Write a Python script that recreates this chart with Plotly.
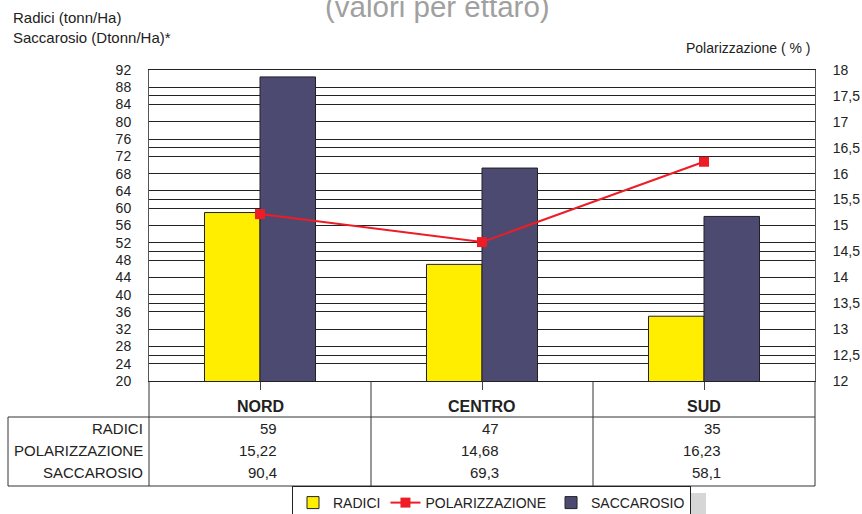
import plotly.graph_objects as go

categories = ["NORD", "CENTRO", "SUD"]
radici = [59, 47, 35]
polarizzazione = [15.22, 14.68, 16.23]
saccarosio = [90.4, 69.3, 58.1]
series_names = ["RADICI", "POLARIZZAZIONE", "SACCAROSIO"]

W, H = 862, 514
L, R, T, B = 149, 815, 70, 381
pw, ph = R - L, B - T

def px(x):
    return (x - L) / pw

def py(y):
    return (B - y) / ph

FONT = "Liberation Sans, Arial, sans-serif"
YELLOW = "#FFEE00"
DARK = "#4D4A72"
RED = "#EE1C25"

fig = go.Figure()
fig.add_trace(go.Bar(x=categories, y=radici, name=series_names[0], legendrank=1,
                     marker=dict(color=YELLOW, line=dict(color="#222", width=1)), yaxis="y"))
fig.add_trace(go.Bar(x=categories, y=saccarosio, name=series_names[2], legendrank=3,
                     marker=dict(color=DARK, line=dict(color="#222", width=1)), yaxis="y"))
fig.add_trace(go.Scatter(x=categories, y=polarizzazione, name=series_names[1], legendrank=2,
                         mode="lines+markers", line=dict(color=RED, width=2),
                         marker=dict(symbol="square", size=10, color=RED), yaxis="y2"))

def fmt(v):
    return str(v).replace(".", ",")

shapes = []
def line(x0, y0, x1, y1, w=1, color="#333"):
    shapes.append(dict(type="line", xref="paper", yref="paper",
                       x0=px(x0), y0=py(y0), x1=px(x1), y1=py(y1),
                       line=dict(color=color, width=w)))

col_edges = [149, 371, 593, 815]
for xe in col_edges:
    line(xe, 381, xe, 486)
line(8, 417, 815, 417)
line(8, 486, 815, 486)
line(8, 417, 8, 486)

LEG_X0, LEG_W = 292, 398
# legend shadow
shapes.append(dict(type="rect", xref="paper", yref="paper", x0=px(LEG_X0 + 4), y0=py(493),
                   x1=px(LEG_X0 + LEG_W + 16), y1=py(516),
                   fillcolor="#D6D6D6", line=dict(width=0), layer="below"))

ann = []
def text(t, x, y, size, xanchor="center", color="#222"):
    ann.append(dict(text=t, x=px(x), y=py(y), xref="paper", yref="paper", xanchor=xanchor,
                    yanchor="middle", showarrow=False,
                    font=dict(size=size, color=color, family=FONT)))

centers = [(col_edges[i] + col_edges[i + 1]) / 2 for i in range(3)]
for i, c in enumerate(categories):
    text("<b>%s</b>" % c, centers[i], 406, 16)
rows = [radici, polarizzazione, saccarosio]
row_y = [428, 450, 472]
for r, vals in enumerate(rows):
    text(series_names[r], 145, row_y[r], 15, "right")
    for i, v in enumerate(vals):
        text(fmt(v), centers[i] + 19, row_y[r], 15, "right")

text("Radici (tonn/Ha)", 11, 18, 15, "left")
text("Saccarosio (Dtonn/Ha)*", 11, 38, 15, "left")
text("Polarizzazione ( % )", 813, 48, 14, "right")
text("(valori per ettaro)", 437, 6, 29.5, "center", "#A0A0A0")

fig.update_layout(
    width=W, height=H, autosize=False,
    margin=dict(l=L, r=W - R, t=T, b=H - B, pad=0, autoexpand=False),
    paper_bgcolor="white", plot_bgcolor="white",
    separators=",.",
    barmode="group", bargap=0.5, bargroupgap=0,
    font=dict(family=FONT, size=14, color="#222"),
    showlegend=True,
    legend=dict(orientation="h", x=px(LEG_X0), y=py(486), xanchor="left", yanchor="top",
                bordercolor="#222", borderwidth=1, bgcolor="white",
                font=dict(size=14, family=FONT, color="#222"),
                itemwidth=30, tracegroupgap=0, traceorder="normal"),
    xaxis=dict(showticklabels=False, ticks="outside", ticklen=8, tickcolor="#444",
               showline=True, linecolor="#222", linewidth=1, mirror=True, showgrid=False),
    yaxis=dict(range=[20, 92], dtick=4, tick0=20, showgrid=True, gridcolor="#222", gridwidth=1,
               showline=True, linecolor="#555", linewidth=1, ticks="", ticklabelstandoff=14,
               tickfont=dict(size=14), zeroline=False),
    yaxis2=dict(range=[12, 18], dtick=0.5, tick0=12, overlaying="y", side="right",
                showgrid=True, gridcolor="#222", gridwidth=1, showline=True, linecolor="#555",
                ticks="", ticklabelstandoff=14, tickfont=dict(size=14), zeroline=False),
    shapes=shapes,
    annotations=ann,
)

post = "document.body.style.margin='0';document.body.style.overflow='hidden';"
fig.write_html("out.html", config={"displayModeBar": False, "responsive": False}, post_script=post)
